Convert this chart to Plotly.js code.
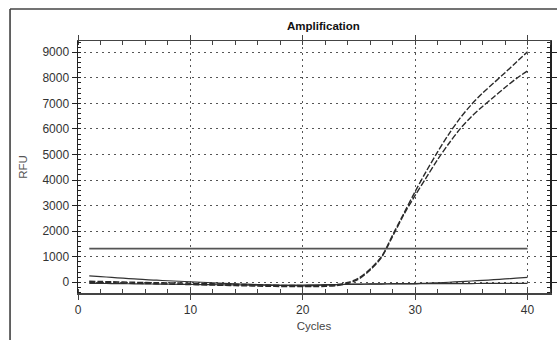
<!DOCTYPE html>
<html>
<head>
<meta charset="utf-8">
<script src="https://cdn.plot.ly/plotly-3.0.1.min.js"></script>
<style>
  html, body { margin: 0; padding: 0; background: #fff; }
  #chart { width: 557px; height: 340px; }
</style>
</head>
<body>
<div id="chart"></div>
<script>
// Cycle numbers of the qPCR run
const cycles = [1,2,3,4,5,6,7,8,9,10,11,12,13,14,15,16,17,18,19,20,
                21,22,23,24,25,26,27,28,29,30,31,32,33,34,35,36,37,38,39,40];

// RFU readings per well
const sampleA = [40,30,20,10,0,-10,-15,-25,-30,-40,-50,-60,-70,-80,-90,-100,-110,-120,-125,-130,
                 -130,-120,-90,-10,170,520,1000,1850,2700,3550,4350,5100,5800,6420,6950,7400,7800,8200,8610,9020];
const sampleB = [0,-10,-20,-30,-40,-50,-60,-70,-80,-90,-100,-110,-120,-130,-140,-150,-160,-165,-170,-170,
                 -170,-160,-130,-50,130,480,970,1800,2650,3400,4100,4800,5430,6000,6480,6880,7250,7620,7970,8270];
const controlA = [250,220,190,160,130,100,80,60,40,20,0,-20,-40,-60,-75,-90,-105,-120,-130,-140,
                  -130,-110,-90,-80,-70,-65,-60,-55,-52,-50,-40,-20,0,25,50,75,100,130,160,195];
const controlB = [-40,-45,-50,-55,-60,-65,-70,-75,-80,-85,-90,-95,-100,-105,-110,-115,-120,-120,-115,-110,
                  -100,-95,-90,-85,-80,-75,-70,-65,-60,-60,-55,-55,-50,-50,-50,-45,-45,-40,-40,-40];

// Threshold level
const thresholdX = [1, 40];
const thresholdY = [1320, 1320];

const xTickVals = [0, 10, 20, 30, 40];
const yTickVals = [0,1000,2000,3000,4000,5000,6000,7000,8000,9000];

const ampStyle = {color: '#2a2a2a', width: 1.4, dash: '6px,2px', shape: 'spline', smoothing: 0.9};
const baseStyle = {color: '#333', width: 1.2, shape: 'spline', smoothing: 0.9};

const traces = [
  {x: cycles, y: controlA, mode: 'lines', line: baseStyle, hoverinfo: 'skip'},
  {x: cycles, y: controlB, mode: 'lines', line: baseStyle, hoverinfo: 'skip'},
  {x: cycles, y: sampleB, mode: 'lines', line: ampStyle, hoverinfo: 'skip'},
  {x: cycles, y: sampleA, mode: 'lines', line: ampStyle, hoverinfo: 'skip'},
  {x: thresholdX, y: thresholdY, mode: 'lines', line: {color: '#555', width: 1.8}, hoverinfo: 'skip'}
];

const fontFam = '"Liberation Sans", Arial, sans-serif';

const layout = {
  width: 557, height: 340,
  margin: {l: 78, r: 7, t: 41, b: 47},
  paper_bgcolor: '#fff', plot_bgcolor: '#fff',
  showlegend: false,
  font: {family: fontFam, size: 12, color: '#222'},
  title: {text: '<b>Amplification</b>', font: {family: fontFam, size: 11.5, color: '#111'},
          x: 0.52, xref: 'paper', y: 1, yref: 'container', yanchor: 'top', pad: {t: 22}},
  xaxis: {
    range: [0, 42], tickvals: xTickVals, ticktext: xTickVals.map(String),
    showgrid: true, gridcolor: '#555', griddash: '2px,4px', gridwidth: 1,
    zeroline: false, showline: true, linecolor: '#444', linewidth: 1.5, mirror: 'allticks',
    ticks: 'outside', ticklen: 5, tickcolor: '#444',
    minor: {dtick: 2, tick0: 0, ticks: 'inside', ticklen: 4, tickcolor: '#444', showgrid: false},
    tickfont: {size: 12, color: '#333'},
    title: {text: 'Cycles', font: {size: 11.5, color: '#444'}, standoff: 6}
  },
  yaxis: {
    range: [-420, 9440], tickvals: yTickVals, ticktext: yTickVals.map(String),
    showgrid: true, gridcolor: '#555', griddash: '2px,4px', gridwidth: 1,
    zeroline: false, showline: true, linecolor: '#222', linewidth: 1.5, mirror: 'allticks',
    ticks: 'outside', ticklen: 5, tickcolor: '#222',
    minor: {dtick: 200, tick0: 0, ticks: 'inside', ticklen: 3, tickcolor: '#222', showgrid: false},
    tickfont: {size: 12, color: '#333'},
    title: {text: 'RFU', font: {size: 11.5, color: '#555'}, standoff: 12}
  },
  shapes: [
    // outer frame of the panel (left and top edges)
    {type: 'line', xref: 'paper', yref: 'paper', x0: -0.144, x1: -0.144, y0: -0.2, y1: 1.127,
     line: {color: '#333', width: 1.5}},
    {type: 'line', xref: 'paper', yref: 'paper', x0: -0.144, x1: 1.02, y0: 1.127, y1: 1.127,
     line: {color: '#444', width: 1.5}}
  ]
};

Plotly.newPlot('chart', traces, layout, {staticPlot: true, displayModeBar: false});
</script>
</body>
</html>
